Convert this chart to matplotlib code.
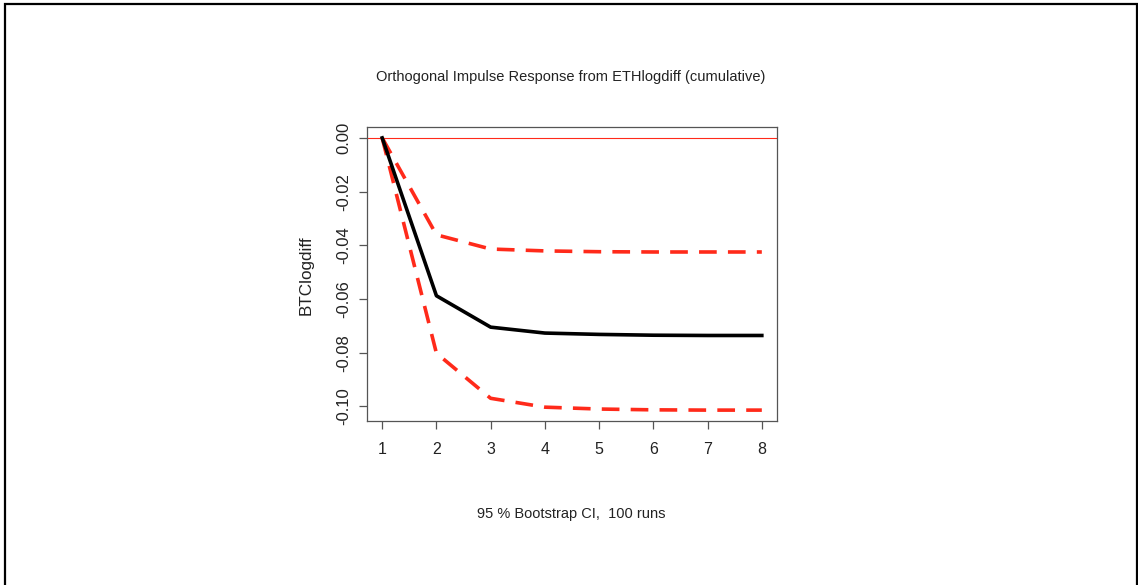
import numpy as np
import matplotlib.pyplot as plt
from matplotlib.patches import Rectangle

plt.rcParams['font.family'] = ['Liberation Sans', 'DejaVu Sans']

steps = [1, 2, 3, 4, 5, 6, 7, 8]
irf = [0.0, -0.0588, -0.0705, -0.0727, -0.0732, -0.0735, -0.0736, -0.0736]
upper = [0.0, -0.0361, -0.0414, -0.0421, -0.0424, -0.0425, -0.0425, -0.0425]
lower = [0.0, -0.0802, -0.0970, -0.1003, -0.1010, -0.1013, -0.1014, -0.1014]
yticks = [0.00, -0.02, -0.04, -0.06, -0.08, -0.10]

W, H = 1138, 585
fig = plt.figure(figsize=(W / 100, H / 100), dpi=100)

# outer frame (open at the bottom)
fig.add_artist(Rectangle((4.5 / W, -0.05), 1132 / W, 1.05 - 4 / H,
                         transform=fig.transFigure, fill=False,
                         edgecolor='black', linewidth=1.6))

ax = fig.add_axes([367 / W, 1 - 421 / H, 410 / W, 294 / H])

red = '#ff2a1a'
ax.axhline(0, color=red, linewidth=0.8, zorder=1)
ax.plot(steps, irf, color='black', linewidth=2.6, zorder=3)
ax.plot(steps, upper, color=red, linewidth=2.6, dashes=(4.9, 3.1), zorder=2)
ax.plot(steps, lower, color=red, linewidth=2.6, dashes=(4.9, 3.1), zorder=2)

lo = min(lower)
pad = 0.04 * (0 - lo)
ax.set_xlim(1 - 0.04 * 7, 8 + 0.04 * 7)
ax.set_ylim(lo - pad, 0 + pad)

ax.set_xticks(steps)
ax.set_xticklabels([str(s) for s in steps], fontsize=11.5)
ax.set_yticks(yticks)
ax.set_yticklabels([f'{v:.2f}' for v in yticks], rotation=90, va='center',
                   fontsize=12)

for s in ax.spines.values():
    s.set_color('#555555')
    s.set_linewidth(0.9)
ax.tick_params(length=6, width=0.9, color='#555555', labelcolor='#222222')
ax.tick_params(axis='x', pad=9)
ax.tick_params(axis='y', pad=5)

fig.text(571 / W, 1 - 77 / H,
         'Orthogonal Impulse Response from ETHlogdiff (cumulative)',
         ha='center', va='center', fontsize=10.5, color='#222222')
fig.text(571 / W, 1 - 514 / H, '95 % Bootstrap CI,  100 runs',
         ha='center', va='center', fontsize=10.5, color='#222222')
fig.text(306 / W, 1 - 275 / H, 'BTClogdiff', rotation=90,
         ha='center', va='center', fontsize=12.3, color='#222222')

fig.savefig('out.png', dpi=100)
